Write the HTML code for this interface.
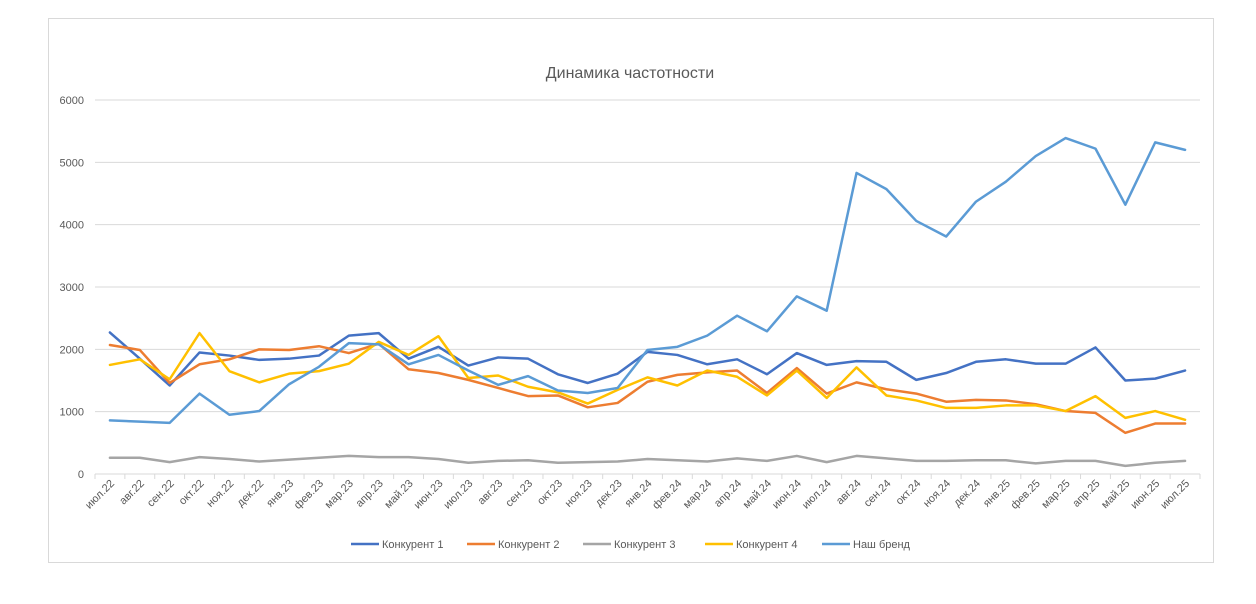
<!DOCTYPE html>
<html><head><meta charset="utf-8">
<style>
body{margin:0;background:#fff;width:1256px;height:604px;overflow:hidden;font-family:"Liberation Sans","DejaVu Sans",sans-serif;}
#frame{position:absolute;left:48px;top:18px;width:1166px;height:545px;border:1px solid #d9d9d9;box-sizing:border-box;}
</style></head><body>
<div id="frame"></div>
<svg id="chart" width="1256" height="604" style="position:absolute;left:0;top:0"></svg>
<script>
const categories=["июл.22","авг.22","сен.22","окт.22","ноя.22","дек.22","янв.23","фев.23","мар.23","апр.23","май.23","июн.23","июл.23","авг.23","сен.23","окт.23","ноя.23","дек.23","янв.24","фев.24","мар.24","апр.24","май.24","июн.24","июл.24","авг.24","сен.24","окт.24","ноя.24","дек.24","янв.25","фев.25","мар.25","апр.25","май.25","июн.25","июл.25"];
const comp1=[2270,1850,1420,1950,1900,1830,1850,1900,2220,2260,1850,2040,1740,1870,1850,1600,1460,1610,1960,1910,1760,1840,1600,1940,1750,1810,1800,1510,1620,1800,1840,1770,1770,2030,1500,1530,1660];
const comp2=[2070,1990,1460,1760,1840,2000,1990,2050,1940,2090,1680,1620,1510,1380,1250,1260,1070,1140,1480,1590,1630,1660,1300,1700,1290,1470,1360,1290,1160,1190,1180,1120,1010,980,660,810,810];
const comp3=[260,260,190,270,240,200,230,260,290,270,270,240,180,210,220,180,190,200,240,220,200,250,210,290,190,290,250,210,210,220,220,170,210,210,130,180,210];
const comp4=[1750,1840,1520,2260,1650,1470,1610,1650,1770,2120,1910,2210,1540,1580,1400,1310,1130,1350,1550,1420,1660,1560,1260,1660,1220,1710,1260,1180,1060,1060,1100,1100,1010,1250,900,1010,870];
const brand=[860,840,820,1290,950,1010,1440,1720,2100,2080,1760,1910,1660,1430,1570,1340,1300,1380,1990,2040,2220,2540,2290,2850,2620,4830,4570,4060,3810,4370,4690,5100,5390,5220,4320,5320,5200];
const yTicks=[0,1000,2000,3000,4000,5000,6000];
const seriesNames=["Конкурент 1","Конкурент 2","Конкурент 3","Конкурент 4","Наш бренд"];
const seriesColors=["#4472c4","#ed7d31","#a5a5a5","#ffc000","#5b9bd5"];
const seriesData=[comp1,comp2,comp3,comp4,brand];

const NS="http://www.w3.org/2000/svg";
const svg=document.getElementById('chart');
const L=95,R=1200,T=100,B=474,YMAX=6000;
const step=(R-L)/categories.length;
const x=i=>L+step*(i+0.5);
const y=v=>B-(v/YMAX)*(B-T);
function el(t,a){const e=document.createElementNS(NS,t);for(const k in a)e.setAttribute(k,a[k]);svg.appendChild(e);return e;}

const title=el('text',{x:630,y:78,'text-anchor':'middle','font-size':16,fill:'#595959'});
title.textContent="Динамика частотности";



yTicks.forEach(t=>{
  if(t>0){const g=el('line',{x1:L,x2:R,y1:y(t),y2:y(t),stroke:'#d9d9d9','stroke-width':1});
  
  }
  const tx=el('text',{x:84,y:y(t)+4,'text-anchor':'end','font-size':11,fill:'#595959'});
  tx.textContent=t;
  
  
});
const ax=el('line',{x1:L,x2:R,y1:B,y2:B,stroke:'#d9d9d9','stroke-width':1});


for(let i=0;i<=categories.length;i++){
  const tk=el('line',{x1:L+step*i,x2:L+step*i,y1:B,y2:B+5,stroke:'#d9d9d9'});
  
  
}
categories.forEach((c,i)=>{
  const tx=el('text',{x:x(i)+5,y:B+10,'text-anchor':'end','font-size':11,fill:'#595959',transform:`rotate(-45 ${x(i)+5} ${B+10})`});
  tx.textContent=c;
  
  
});
seriesData.forEach((d,s)=>{
  const p=el('polyline',{points:d.map((v,i)=>x(i)+','+y(v)).join(' '),fill:'none',stroke:seriesColors[s],'stroke-width':2.5,'stroke-linejoin':'round','stroke-linecap':'round'});
  
  
});
const legX=[351,467,583,705,822];
seriesNames.forEach((n,s)=>{
  const ln=el('line',{x1:legX[s],x2:legX[s]+28,y1:544,y2:544,stroke:seriesColors[s],'stroke-width':2.5});
  
  
  const t=el('text',{x:legX[s]+31,y:548,'font-size':11,fill:'#595959'});
  t.textContent=n;
  
  
});
</script>
</body></html>
